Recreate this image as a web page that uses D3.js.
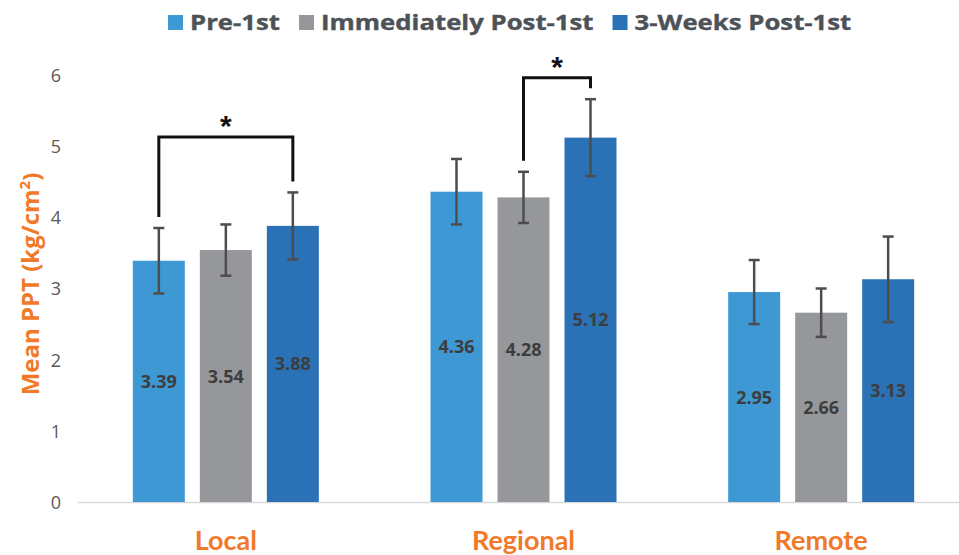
<!DOCTYPE html>
<html>
<head>
<meta charset="utf-8">
<script src="https://cdn.jsdelivr.net/npm/d3@7"></script>
<style>
  html, body { margin: 0; padding: 0; background: #ffffff; }
  svg { display: block; }
</style>
</head>
<body>
<svg id="chart" width="959" height="555"></svg>
<script>
// ---- data ----
const categories = ["Local", "Regional", "Remote"];
const seriesNames = ["Pre-1st", "Immediately Post-1st", "3-Weeks Post-1st"];
const preValues = [3.39, 4.36, 2.95];
const immValues = [3.54, 4.28, 2.66];
const wkValues  = [3.88, 5.12, 3.13];
const preErr = [0.46, 0.46, 0.45];
const immErr = [0.36, 0.36, 0.34];
const wkErr  = [0.47, 0.54, 0.60];
const yTicks = [0, 1, 2, 3, 4, 5, 6];
const yLabel = "Mean PPT (kg/cm";
const sigCategories = ["Local", "Regional"];
const sigFrom = [0, 1];
const sigTo = [2, 2];
const sigLevel = [5.13, 5.96];

// ---- styles ----
const colors = ["#3d98d4", "#95979a", "#2b71b6"];
const orange = "#f07a2a";
const textGray = "#4d5257";

const seriesValues = [preValues, immValues, wkValues];
const seriesErr = [preErr, immErr, wkErr];

const svg = d3.select("#chart");

const y = d3.scaleLinear().domain([0, 6]).range([502, 75]);
const x0 = d3.scaleBand().domain(categories).range([77, 970]).paddingInner(0).paddingOuter(0);
const groupWidth = 186;
const x1 = d3.scaleBand().domain(seriesNames).range([0, groupWidth]).paddingInner(0.224).paddingOuter(0);
const groupLeft = c => x0(c) + (x0.bandwidth() - groupWidth) / 2;

// table
const rows = [];
categories.forEach((c, ci) => {
  seriesNames.forEach((s, si) => {
    rows.push({ cat: c, ser: s, si: si, v: seriesValues[si][ci], e: seriesErr[si][ci] });
  });
});

// y axis tick labels (no line)
const yAxis = d3.axisLeft(y).tickValues(yTicks).tickSize(0).tickPadding(0).tickFormat(d3.format("d"));
const gy = svg.append("g").attr("transform", "translate(61,0)").call(yAxis);
gy.select(".domain").remove();
gy.selectAll("text")
  .attr("font-family", "'Open Sans', sans-serif")
  .attr("font-size", 18)
  .attr("fill", "#595959")
  .attr("dy", "0.36em");

// baseline
svg.append("line")
  .attr("x1", 78).attr("x2", 959)
  .attr("y1", y(0) + 0.5).attr("y2", y(0) + 0.5)
  .attr("stroke", "#d9d9d9").attr("stroke-width", 1.5);

// bars
svg.append("g").selectAll("rect").data(rows).join("rect")
  .attr("x", d => groupLeft(d.cat) + x1(d.ser))
  .attr("y", d => y(d.v))
  .attr("width", x1.bandwidth())
  .attr("height", d => y(0) - y(d.v))
  .attr("fill", d => colors[d.si]);

// value labels
svg.append("g").selectAll("text").data(rows).join("text")
  .attr("x", d => groupLeft(d.cat) + x1(d.ser) + x1.bandwidth() / 2)
  .attr("y", d => y(d.v / 2) + 6.5)
  .attr("text-anchor", "middle")
  .attr("font-family", "'Open Sans', sans-serif")
  .attr("font-weight", "bold")
  .attr("font-size", 18)
  .attr("fill", "#3d3d3d")
  .text(d => d3.format(".2f")(d.v));

// error bars
const eb = svg.append("g").attr("stroke", "#4d4d4d").attr("stroke-width", 2.5);
rows.forEach(d => {
  const cx = groupLeft(d.cat) + x1(d.ser) + x1.bandwidth() / 2;
  const yt = y(d.v + d.e), yb = y(d.v - d.e);
  eb.append("line").attr("x1", cx).attr("x2", cx).attr("y1", yt).attr("y2", yb);
  eb.append("line").attr("x1", cx - 5.5).attr("x2", cx + 5.5).attr("y1", yt).attr("y2", yt);
  eb.append("line").attr("x1", cx - 5.5).attr("x2", cx + 5.5).attr("y1", yb).attr("y2", yb);
});

// significance brackets
const sg = svg.append("g");
sigCategories.forEach((c, i) => {
  const ci = categories.indexOf(c);
  const a = sigFrom[i], b = sigTo[i];
  const xa = groupLeft(c) + x1(seriesNames[a]) + x1.bandwidth() / 2;
  const xb = groupLeft(c) + x1(seriesNames[b]) + x1.bandwidth() / 2;
  const ya = y(seriesValues[a][ci] + seriesErr[a][ci]) - 11;
  const yb = y(seriesValues[b][ci] + seriesErr[b][ci]) - 11;
  const yl = y(sigLevel[i]);
  sg.append("path")
    .attr("d", `M${xa},${ya}V${yl}H${xb}V${yb}`)
    .attr("fill", "none").attr("stroke", "#111").attr("stroke-width", 3);
  sg.append("text")
    .attr("x", (xa + xb) / 2)
    .attr("y", yl - 1)
    .attr("text-anchor", "middle")
    .attr("font-family", "'Liberation Sans', Arial, sans-serif")
    .attr("font-weight", "bold")
    .attr("font-size", 30)
    .attr("fill", "#111")
    .text("*");
});

// x category labels
svg.append("g").selectAll("text").data(categories).join("text")
  .attr("x", d => x0(d) + x0.bandwidth() / 2)
  .attr("y", 550)
  .attr("text-anchor", "middle")
  .attr("font-family", "Lato, sans-serif")
  .attr("font-weight", "bold")
  .attr("font-size", 27)
  .attr("fill", orange)
  .text(d => d);

// y axis title
const yt = svg.append("text")
  .attr("transform", "translate(39,284) rotate(-90)")
  .attr("text-anchor", "middle")
  .attr("font-family", "'Open Sans', sans-serif")
  .attr("font-weight", "bold")
  .attr("font-size", 24)
  .attr("fill", orange);
yt.append("tspan").text(yLabel);
yt.append("tspan").attr("font-size", 15).attr("dy", "-0.6em").text("2");
yt.append("tspan").attr("dy", "0.4em").text(")");

// legend
const lg = svg.append("g");
let lx = 168;
const sx = 1.17;
seriesNames.forEach((s, i) => {
  lg.append("rect").attr("x", lx).attr("y", 15).attr("width", 15).attr("height", 15).attr("fill", colors[i]);
  const t = lg.append("text")
    .attr("transform", `translate(${lx + 22},30) scale(${sx},1)`)
    .attr("font-family", "'Open Sans', sans-serif")
    .attr("font-weight", "bold")
    .attr("font-size", 22)
    .attr("fill", textGray)
    .attr("stroke", textGray)
    .attr("stroke-width", 0.4)
    .text(s);
  const w = t.node().getComputedTextLength() * sx;
  lx = lx + 22 + w + 19;
});
</script>
</body>
</html>
